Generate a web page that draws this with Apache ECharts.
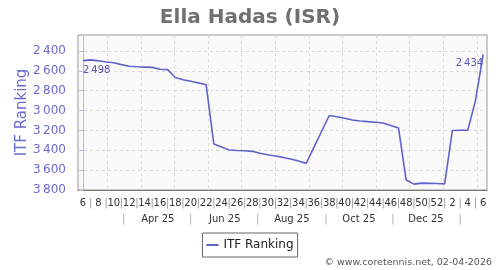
<!DOCTYPE html>
<html><head><meta charset="utf-8">
<script src="https://cdn.jsdelivr.net/npm/echarts@6/dist/echarts.min.js"></script>
<style>html,body{margin:0;padding:0;background:#fff}#c{width:500px;height:270px}</style>
</head><body><div id="c"></div>
<script>
// ---- data ----
const startDate = '2025-02-07';
const weekNumbers = [6,7,8,9,10,11,12,13,14,15,16,17,18,19,20,21,22,23,24,25,26,27,28,29,30,31,32,33,34,35,36,37,38,39,40,41,42,43,44,45,46,47,48,49,50,51,52,1,2,3,4,5,6];
const ranking = [2498,2490,2500,2512,2520,2538,2555,2560,2563,2566,2585,2588,2668,2690,2706,2722,2740,
  3336,3368,3397,3402,3405,3411,3431,3445,3458,3472,3488,3508,3532,3371,3211,
  3050,3062,3078,3095,3105,3112,3118,3125,3150,3175,
  3700,3741,3731,3733,3735,3738,3201,3199,3198,2900,2434];
const yTicks = [2400,2600,2800,3000,3200,3400,3600,3800];
const monthLabels = ['Apr 25','Jun 25','Aug 25','Oct 25','Dec 25'];
const monthLabelDates = ['2025-04-16','2025-06-16','2025-08-16','2025-10-16','2025-12-16'];
const monthSeparatorDates = ['2025-03-16','2025-05-16','2025-07-16','2025-09-16','2025-11-16','2026-01-16'];
const monthGridDates = ['2025-03-01','2025-04-01','2025-05-01','2025-06-01','2025-07-01','2025-08-01','2025-09-01','2025-10-01','2025-11-01','2025-12-01','2026-01-01','2026-02-01'];
const seriesName = 'ITF Ranking';
const titleText = 'Ella Hadas (ISR)';
const creditText = '\u00a9 www.coretennis.net, 02-04-2026';

// ---- helpers ----
const FONT = 'DejaVu Sans';
const DAY = 86400000;
const t0 = Date.parse(startDate + 'T00:00:00Z');
const toIdx = d => (Date.parse(d + 'T00:00:00Z') - t0) / (7 * DAY);
const fmtNum = v => String(v).replace(/\B(?=(\d{3})+$)/, '\u2009');
const X_MIN = -0.65, X_MAX = 52.5;

const monthRow = [];
monthLabelDates.forEach((d, i) => monthRow.push({v: toIdx(d), t: monthLabels[i]}));
monthSeparatorDates.forEach(d => monthRow.push({v: toIdx(d), t: null}));
monthRow.sort((a, b) => a.v - b.v);

const last = ranking.length - 1;
const seriesData = ranking.map((v, i) => {
  const item = {value: [i, v]};
  if (i === 0) {
    item.symbol = 'circle'; item.symbolSize = 0;
    item.label = {show: true, position: [0, 5], align: 'left', verticalAlign: 'top'};
  } else if (i === last) {
    item.symbol = 'circle'; item.symbolSize = 0;
    item.label = {show: true, position: [0, 4], align: 'right', verticalAlign: 'top'};
  }
  return item;
});

const lineColor = '#6262cc';
const axisBlue = '#6a6acf';

const chart = echarts.init(document.getElementById('c'), null, {renderer: 'canvas'});
chart.setOption({
  animation: false,
  textStyle: {fontFamily: FONT},
  title: {
    text: titleText, left: 'center', top: 3,
    textStyle: {fontFamily: FONT, fontSize: 20, fontWeight: 'bold', color: '#707070'}
  },
  grid: {
    left: 78, right: 13, top: 35, bottom: 80,
    show: true, backgroundColor: '#fafafa', borderColor: '#999', borderWidth: 1
  },
  legend: {
    data: [{name: seriesName, icon: 'rect'}], top: 233, left: 'center',
    borderColor: '#666', borderWidth: 1, padding: [6, 4, 6, 4],
    itemWidth: 12, itemHeight: 2,
    textStyle: {fontFamily: FONT, fontSize: 12, color: '#222'}
  },
  xAxis: [
    {
      type: 'value', min: X_MIN, max: X_MAX, position: 'bottom',
      axisLine: {show: true, onZero: false, lineStyle: {color: '#777', width: 1}},
      axisTick: {show: false},
      splitLine: {show: false},
      axisLabel: {
        customValues: weekNumbers.map((_, i) => i),
        margin: 8, fontSize: 10, color: '#333', fontFamily: FONT,
        formatter: v => {
          const w = weekNumbers[Math.round(v)];
          return (w % 2 === 1) ? '{p||}' : String(w);
        },
        rich: {p: {color: '#999', fontSize: 10, fontFamily: FONT}}
      }
    },
    {
      type: 'value', min: X_MIN, max: X_MAX, position: 'bottom',
      axisLine: {show: false}, axisTick: {show: false}, splitLine: {show: false},
      axisLabel: {
        customValues: monthRow.map(m => m.v),
        margin: 24, fontSize: 10, color: '#333', fontFamily: FONT,
        formatter: v => {
          let best = monthRow[0];
          monthRow.forEach(m => { if (Math.abs(m.v - v) < Math.abs(best.v - v)) best = m; });
          return best.t === null ? '{p||}' : best.t;
        },
        rich: {p: {color: '#aaa', fontSize: 10, fontFamily: FONT}}
      }
    },
    {
      type: 'value', min: X_MIN, max: X_MAX, position: 'bottom',
      axisLine: {show: false}, axisLabel: {show: false},
      axisTick: {show: false, customValues: monthGridDates.map(toIdx)},
      splitLine: {show: true, lineStyle: {type: [3, 3], color: '#dadada', width: 1}}
    }
  ],
  yAxis: {
    type: 'value', inverse: true, min: 2240, max: 3800, offset: 5,
    name: seriesName, nameLocation: 'middle', nameGap: 43, nameMoveOverlap: false,
    nameTextStyle: {fontFamily: FONT, fontSize: 15, color: axisBlue},
    axisLine: {show: true, lineStyle: {color: '#b8b8e0'}},
    axisTick: {show: true, customValues: yTicks, length: 4, lineStyle: {color: '#b8b8e0'}},
    axisLabel: {customValues: yTicks, formatter: v => fmtNum(v), color: axisBlue, fontSize: 12, margin: 7, fontFamily: FONT},
    splitLine: {show: true, lineStyle: {type: [3, 3], color: '#dadada', width: 1}}
  },
  series: [{
    name: seriesName, type: 'line', xAxisIndex: 0, yAxisIndex: 0,
    data: seriesData, symbol: 'none',
    lineStyle: {color: lineColor, width: 1.6},
    itemStyle: {color: lineColor},
    label: {fontFamily: FONT, fontSize: 10, color: '#5858c0', formatter: p => fmtNum(p.value[1])},
    emphasis: {disabled: true}
  }],
  graphic: [{
    type: 'text', right: 8, bottom: 2,
    style: {text: creditText, fontFamily: FONT, fontSize: 9.5, fill: '#555'}
  }]
});
</script></body></html>
